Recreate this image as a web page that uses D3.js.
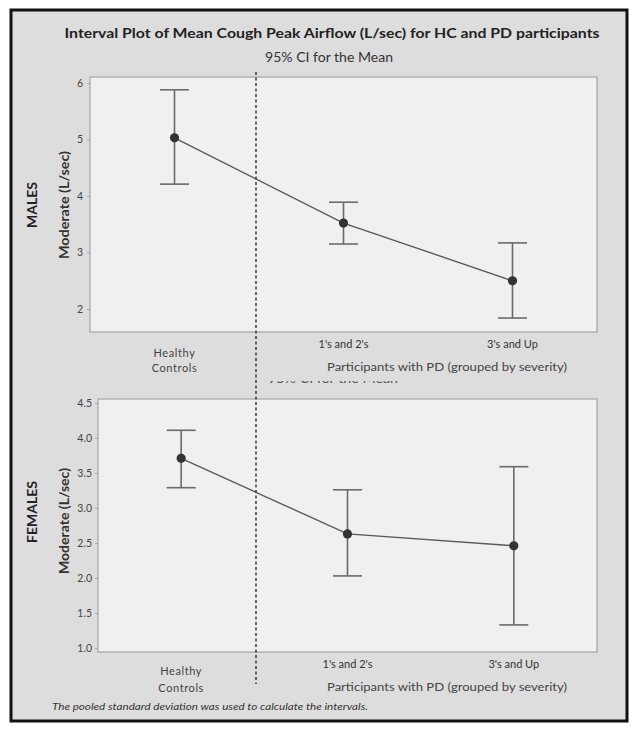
<!DOCTYPE html>
<html>
<head>
<meta charset="utf-8">
<script src="https://cdn.jsdelivr.net/npm/d3@7"></script>
<style>
  html, body { margin: 0; padding: 0; background: #ffffff; }
  svg { display: block; }
  text { font-family: Lato, "Open Sans", "Liberation Sans", sans-serif; }
</style>
</head>
<body>
<svg id="chart" width="638" height="735"></svg>
<script>
// ---------- data ----------
const categories = ["Healthy Controls", "1's and 2's", "3's and Up"];
const maleMean   = [5.03, 3.52, 2.50];
const maleLower  = [4.21, 3.15, 1.84];
const maleUpper  = [5.88, 3.89, 3.17];
const femaleMean  = [3.71, 2.63, 2.46];
const femaleLower = [3.29, 2.03, 1.33];
const femaleUpper = [4.11, 3.26, 3.59];
const maleTicks   = [2, 3, 4, 5, 6];
const femaleTicks = [1.0, 1.5, 2.0, 2.5, 3.0, 3.5, 4.0, 4.5];

const title = "Interval Plot of Mean Cough Peak Airflow (L/sec) for HC and PD participants";
const subtitle = "95% CI for the Mean";
const yTitle = "Moderate (L/sec)";
const groupLabel = "Participants with PD (grouped by severity)";
const footnote = "The pooled standard deviation was used to calculate the intervals.";

const svg = d3.select("#chart");

// frame background
svg.append("rect").attr("x", 11).attr("y", 10).attr("width", 616).attr("height", 711)
  .attr("fill", "#dddddd").attr("stroke", "#111").attr("stroke-width", 3);

svg.append("text").attr("x", 332).attr("y", 38).attr("text-anchor", "middle")
  .attr("font-size", 13.5).attr("font-weight", "bold").attr("fill", "#222")
  .attr("textLength", 535).attr("lengthAdjust", "spacingAndGlyphs").text(title);
svg.append("text").attr("x", 329).attr("y", 62).attr("text-anchor", "middle")
  .attr("font-size", 12.5).attr("fill", "#333")
  .attr("textLength", 128).attr("lengthAdjust", "spacingAndGlyphs").text(subtitle);

// ghost fragment of subtitle between panels (only bottom edge visible)
svg.append("clipPath").attr("id", "ghost").append("rect")
  .attr("x", 260).attr("y", 381).attr("width", 150).attr("height", 2.2);
svg.append("text").attr("x", 333).attr("y", 383.2).attr("text-anchor", "middle")
  .attr("font-size", 12.5).attr("fill", "#555").attr("clip-path", "url(#ghost)")
  .attr("textLength", 130).attr("lengthAdjust", "spacingAndGlyphs").text(subtitle);

function panel(cfg) {
  const x = d3.scalePoint().domain(categories).range([cfg.left, cfg.right]).padding(0.5);
  const y = d3.scaleLinear().domain(cfg.domain).range([cfg.bottom, cfg.top]);
  const g = svg.append("g");
  g.append("rect").attr("x", cfg.left).attr("y", cfg.top)
    .attr("width", cfg.right - cfg.left).attr("height", cfg.bottom - cfg.top)
    .attr("fill", "#f0f0f0").attr("stroke", "#a4a4a4").attr("stroke-width", 1.2);

  // y axis
  const ax = g.append("g").attr("transform", `translate(${cfg.left},0)`)
    .call(d3.axisLeft(y).tickValues(cfg.ticks).tickFormat(cfg.fmt).tickSize(3).tickPadding(cfg.pad));
  ax.select(".domain").remove();
  ax.selectAll("line").attr("stroke", "#aaa");
  ax.selectAll("text").attr("font-size", 10.5).attr("fill", "#444")
    .style("font-family", "Lato, 'Open Sans', sans-serif");

  // x axis labels
  const xs = categories.map(c => x(c));
  g.append("text").attr("x", xs[0]).attr("y", cfg.hy1).attr("text-anchor", "middle")
    .attr("font-size", 11).attr("fill", "#444").attr("letter-spacing", 0.6).text("Healthy");
  g.append("text").attr("x", xs[0]).attr("y", cfg.hy2).attr("text-anchor", "middle")
    .attr("font-size", 11).attr("fill", "#444").attr("letter-spacing", 0.6).text("Controls");
  [1, 2].forEach(i => {
    g.append("text").attr("x", xs[i]).attr("y", cfg.cy).attr("text-anchor", "middle")
      .attr("font-size", 11).attr("fill", "#333").text(categories[i]);
  });
  g.append("text").attr("x", 447).attr("y", cfg.hy2 - 1).attr("text-anchor", "middle")
    .attr("font-size", 11).attr("fill", "#444")
    .attr("textLength", 240).attr("lengthAdjust", "spacingAndGlyphs").text(groupLabel);

  // y title & group label
  g.append("text").attr("transform", `translate(69,${cfg.ty}) rotate(-90)`)
    .attr("text-anchor", "middle").attr("font-size", 12.5).attr("font-weight", "bold")
    .attr("fill", "#333").attr("textLength", cfg.tl).attr("lengthAdjust", "spacingAndGlyphs")
    .text(yTitle);
  g.append("text").attr("transform", `translate(37,${cfg.gy}) rotate(-90)`)
    .attr("text-anchor", "middle").attr("font-size", 14).attr("font-weight", "bold")
    .attr("fill", "#222").text(cfg.group);

  // error bars
  const cap = 14.5;
  categories.forEach((c, i) => {
    const cx = x(c);
    g.append("line").attr("x1", cx).attr("x2", cx)
      .attr("y1", y(cfg.lower[i])).attr("y2", y(cfg.upper[i]))
      .attr("stroke", "#6a6a6a").attr("stroke-width", 1.6);
    [cfg.lower[i], cfg.upper[i]].forEach(v => {
      g.append("line").attr("x1", cx - cap).attr("x2", cx + cap)
        .attr("y1", y(v)).attr("y2", y(v))
        .attr("stroke", "#6a6a6a").attr("stroke-width", 1.6);
    });
  });
  // mean line
  const line = d3.line().x((d, i) => x(categories[i])).y(d => y(d));
  g.append("path").datum(cfg.mean).attr("d", line)
    .attr("fill", "none").attr("stroke", "#5a5a5a").attr("stroke-width", 1.4);
  g.selectAll("circle.m").data(cfg.mean).enter().append("circle")
    .attr("cx", (d, i) => x(categories[i])).attr("cy", d => y(d)).attr("r", 4.6)
    .attr("fill", "#333");
}

panel({
  left: 90, right: 597, top: 77, bottom: 332,
  domain: [1.593, 6.106], ticks: maleTicks, fmt: d3.format("d"), pad: 4,
  mean: maleMean, lower: maleLower, upper: maleUpper,
  hy1: 357, hy2: 372, cy: 348, ty: 205, gy: 205, tl: 108, group: "MALES"
});
panel({
  left: 98, right: 597, top: 399, bottom: 652,
  domain: [0.943, 4.557], ticks: femaleTicks, fmt: d3.format(".1f"), pad: 3,
  mean: femaleMean, lower: femaleLower, upper: femaleUpper,
  hy1: 675, hy2: 692, cy: 668, ty: 521, gy: 512, tl: 106, group: "FEMALES"
});

// dashed separator between HC and PD
svg.append("line").attr("x1", 256).attr("x2", 256).attr("y1", 72).attr("y2", 684)
  .attr("stroke", "#444").attr("stroke-width", 1.6).attr("stroke-dasharray", "3,2.5");

// footnote
svg.append("text").attr("x", 52).attr("y", 710).attr("font-size", 9.5)
  .attr("font-style", "italic").attr("fill", "#333")
  .attr("textLength", 316).attr("lengthAdjust", "spacingAndGlyphs").text(footnote);
</script>
</body>
</html>
